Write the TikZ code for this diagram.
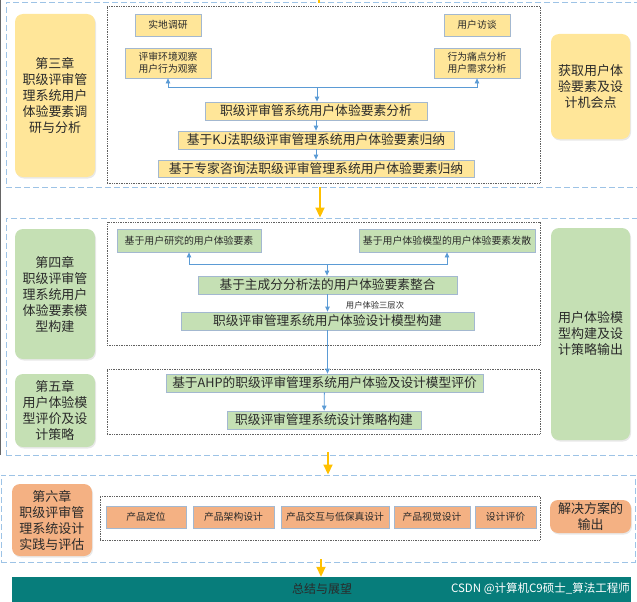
\documentclass[tikz,border=0pt]{standalone}
\usepackage{fontspec}
\setmainfont{Noto Sans CJK SC}
\usetikzlibrary{arrows.meta,shadows}
\definecolor{yfill}{HTML}{FFE699}
\definecolor{gfill}{HTML}{C5E0B4}
\definecolor{ofill}{HTML}{F4B183}
\definecolor{teal2}{HTML}{077D7B}
\definecolor{bord}{HTML}{A3B8D0}
\definecolor{dashc}{HTML}{9DC3E6}
\definecolor{dotc}{HTML}{606060}
\definecolor{arrb}{HTML}{5B9BD5}
\definecolor{yel}{HTML}{FFC000}
\definecolor{txt}{HTML}{2A2A2A}
\begin{document}
\begin{tikzpicture}[x=1pt,y=-1pt,
  chap/.style={rounded corners=8pt, draw=none, align=center, inner sep=0pt, text=txt,
    font=\fontsize{13}{16}\selectfont, drop shadow={opacity=0.18,shadow xshift=1pt,shadow yshift=-1.5pt}},
  bx/.style={draw=bord, line width=0.8pt, inner sep=0pt, align=center, text=txt},
  secbox/.style={draw=dashc, dash pattern=on 6pt off 3pt, line width=0.9pt, inner sep=0pt},
  dotbox/.style={draw=dotc, densely dotted, line width=0.7pt, inner sep=0pt},
  barrow/.style={draw=arrb, line width=0.8pt, -{Triangle[width=4.5pt,length=5pt]}},
  yarrow/.style={draw=yel, line width=1.8pt, -{Triangle[width=9pt,length=10pt]}},
  fs/.style={font=\fontsize{#1}{#1}\selectfont}
]
\useasboundingbox (0,0) rectangle (637,602);
\draw[gray!80!black, line width=0.8pt] (0.5,0) -- (0.5,455);

% ---------- sections ----------
\node[secbox, minimum width=634pt, minimum height=185pt] (sec1) at (323,94.5) {};
\node[secbox, minimum width=634pt, minimum height=237pt] (sec2) at (323,336.5) {};
\node[secbox, minimum width=634pt, minimum height=87pt] (sec3) at (318,518.5) {};

\node[dotbox, minimum width=433pt, minimum height=177pt] (dot1) at (323.5,94.5) {};
\node[dotbox, minimum width=433pt, minimum height=123pt] (dot2a) at (323.5,283.5) {};
\node[dotbox, minimum width=433pt, minimum height=65pt] (dot2b) at (323.5,401.5) {};
\node[dotbox, minimum width=440pt, minimum height=44pt] (dot3) at (320,518) {};

% ---------- section 1 ----------
\node[chap, fill=yfill, minimum width=80pt, minimum height=163pt] (ch3) at (55,95.5)
  {第三章\\职级评审管\\理系统用户\\体验要素调\\研与分析};
\node[chap, fill=yfill, minimum width=79pt, minimum height=105pt] (r1) at (590.5,86.5)
  {获取用户体\\验要素及设\\计机会点};

\node[bx, fill=yfill, fs=9.8, minimum width=66pt, minimum height=22pt] (sd) at (168,25) {实地调研};
\node[bx, fill=yfill, minimum width=86pt, minimum height=30pt, font=\fontsize{9.8}{12.5}\selectfont] (hj) at (168,63) {评审环境观察\\用户行为观察};
\node[bx, fill=yfill, fs=9.8, minimum width=66pt, minimum height=22pt] (ft) at (477,25) {用户访谈};
\node[bx, fill=yfill, minimum width=86pt, minimum height=30pt, font=\fontsize{9.8}{12.5}\selectfont] (xw) at (477,63) {行为痛点分析\\用户需求分析};

\node[bx, fill=yfill, fs=12.8, minimum width=222pt, minimum height=18pt] (fx) at (316,111) {职级评审管系统用户体验要素分析};
\node[bx, fill=yfill, fs=12.8, minimum width=276pt, minimum height=18pt] (kj) at (316,140) {基于KJ法职级评审管理系统用户体验要素归纳};
\node[bx, fill=yfill, fs=12.8, minimum width=316pt, minimum height=17pt] (zj) at (316,168.5) {基于专家咨询法职级评审管理系统用户体验要素归纳};

\coordinate (j1) at (317,87);
\draw[barrow] (j1) -| (hj.south);
\draw[barrow] (j1) -| (xw.south);
\draw[barrow] (j1) -- (j1 |- fx.north);
\draw[barrow] (fx) -- (kj);
\draw[barrow] (kj) -- (zj);

% ---------- section 2 ----------
\node[chap, fill=gfill, minimum width=80pt, minimum height=130pt] (ch4) at (55,294)
  {第四章\\职级评审管\\理系统用户\\体验要素模\\型构建};
\node[chap, fill=gfill, minimum width=80pt, minimum height=73pt] (ch5) at (55,410.5)
  {第五章\\用户体验模\\型评价及设\\计策略};
\node[chap, fill=gfill, minimum width=79pt, minimum height=212pt] (r2) at (590.5,334)
  {用户体验模\\型构建及设\\计策略输出};

\node[bx, fill=gfill, fs=9.9, minimum width=144pt, minimum height=23pt] (ys) at (189,240.5) {基于用户研究的用户体验要素};
\node[bx, fill=gfill, fs=9.9, minimum width=176pt, minimum height=23pt] (mx) at (447,240.5) {基于用户体验模型的用户体验要素发散};
\node[bx, fill=gfill, fs=12.7, minimum width=259pt, minimum height=18pt] (zc) at (327.5,285) {基于主成分分析法的用户体验要素整合};
\node[bx, fill=gfill, fs=12.7, minimum width=293pt, minimum height=18pt] (gj) at (327.5,321) {职级评审管理系统用户体验设计模型构建};
\node[bx, fill=gfill, fs=12.7, minimum width=317pt, minimum height=18pt] (ahp) at (324.5,383) {基于AHP的职级评审管理系统用户体验及设计模型评价};
\node[bx, fill=gfill, fs=12.7, minimum width=194pt, minimum height=18pt] (cl) at (324,420) {职级评审管理系统设计策略构建};
\node[fs=8.3, text=txt, inner sep=0pt] (lbl) at (375,305) {用户体验三层次};

\coordinate (j2) at (327,264);
\draw[barrow] (j2) -| (ys.south);
\draw[barrow] (j2) -| (mx.south);
\draw[barrow] (j2) -- (j2 |- zc.north);
\draw[barrow] (zc) -- (gj);
\draw[barrow] (gj.south) -- (gj.south |- ahp.north);
\draw[barrow] (ahp) -- (cl);

% ---------- section 3 ----------
\node[chap, fill=ofill, minimum width=80pt, minimum height=72pt] (ch6) at (52,520)
  {第六章\\职级评审管\\理系统设计\\实践与评估};
\node[chap, fill=ofill, minimum width=81pt, minimum height=33pt] (r3) at (590.5,516.5)
  {解决方案的\\输出};
\node[bx, fill=ofill, fs=9.8, minimum width=80pt, minimum height=22pt] (p1) at (146,517) {产品定位};
\node[bx, fill=ofill, fs=9.8, minimum width=81pt, minimum height=22pt] (p2) at (233.5,517) {产品架构设计};
\node[bx, fill=ofill, fs=9.8, minimum width=108pt, minimum height=22pt] (p3) at (335,517) {产品交互与低保真设计};
\node[bx, fill=ofill, fs=9.8, minimum width=76pt, minimum height=22pt] (p4) at (432,517) {产品视觉设计};
\node[bx, fill=ofill, fs=9.8, minimum width=61pt, minimum height=22pt] (p5) at (505.5,517) {设计评价};

% ---------- bottom bar ----------
\node[fill=teal2, draw=none, minimum width=619pt, minimum height=26pt, inner sep=0pt] (bar) at (321.5,590) {};
\node[fs=12, text=txt, inner sep=0pt] (bartxt) at (322,589) {总结与展望};
\node[fs=11.5, text=white, anchor=east, inner sep=0pt] (wm) at (630,589) {CSDN @计算机C9硕士\_算法工程师};

% ---------- yellow arrows ----------
\coordinate (ytop) at (319,3);
\draw[draw=yel, line width=1.8pt] (319,0) -- (ytop);
\draw[yarrow] ([xshift=-3pt]sec1.south) -- ([xshift=-3pt]sec2.north);
\draw[yarrow] ([xshift=5pt,yshift=3pt]sec2.south) -- ([xshift=10pt]sec3.north);
\draw[yarrow] ([xshift=3pt,yshift=3pt]sec3.south) -- ([xshift=-0.5pt]bar.north);
\end{tikzpicture}
\end{document}
